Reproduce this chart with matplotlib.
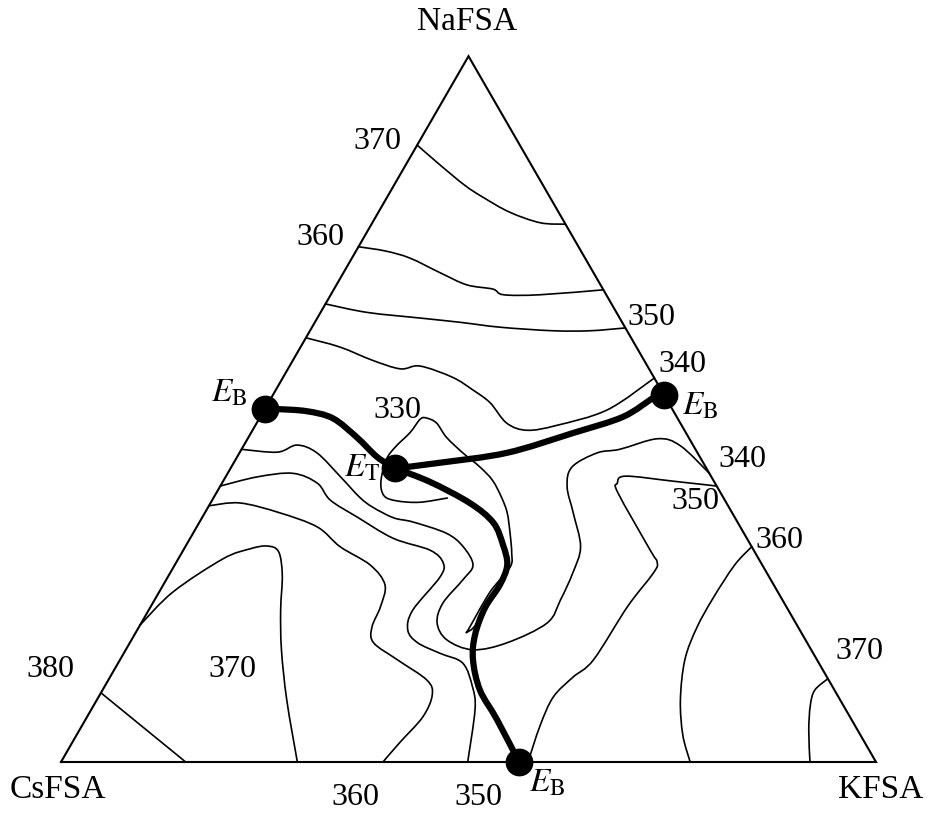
import numpy as np
import matplotlib
matplotlib.use('Agg')
import matplotlib.pyplot as plt
from matplotlib.path import Path
from matplotlib.patches import PathPatch

plt.rcParams['font.family'] = ['Liberation Serif', 'DejaVu Serif']
plt.rcParams['mathtext.fontset'] = 'stix'

# Isotherm traces as mole fractions (x_K, x_NaFSA); x_Cs = 1 - x_K - x_Na
iso370_top_k = [0.0, 0.042, 0.087, 0.118, 0.161, 0.206, 0.238]
iso370_top_na = [0.874, 0.846, 0.817, 0.800, 0.779, 0.764, 0.762]

iso360_top_k = [0.0, 0.036, 0.071, 0.119, 0.160, 0.195, 0.212, 0.257, 0.331]
iso360_top_na = [0.730, 0.724, 0.714, 0.693, 0.676, 0.670, 0.662, 0.662, 0.669]

iso350_top_k = [0.0, 0.057, 0.126, 0.178, 0.231, 0.298, 0.344, 0.385]
iso350_top_na = [0.649, 0.637, 0.629, 0.623, 0.616, 0.611, 0.611, 0.615]

iso340_top_k = [0.0, 0.048, 0.098, 0.138, 0.160, 0.208, 0.242, 0.272, 0.307,
                0.337, 0.370, 0.421, 0.456]
iso340_top_na = [0.601, 0.588, 0.569, 0.557, 0.561, 0.545, 0.527, 0.509, 0.480,
                 0.470, 0.477, 0.499, 0.544]

iso330_k = [0.287, 0.256, 0.227, 0.208, 0.194, 0.185, 0.187, 0.195, 0.198, 0.206,
            0.221, 0.243, 0.274, 0.305, 0.330, 0.353, 0.371, 0.389, 0.405, 0.413,
            0.406, 0.406, 0.406, 0.412, 0.411, 0.406]
iso330_na = [0.374, 0.368, 0.370, 0.377, 0.397, 0.428, 0.446, 0.467, 0.486, 0.487,
             0.480, 0.460, 0.438, 0.418, 0.399, 0.375, 0.353, 0.324, 0.296, 0.276,
             0.241, 0.191, 0.184, 0.197, 0.255, 0.283]

iso340_low_k = [0.0, 0.046, 0.065, 0.095, 0.141, 0.179, 0.202, 0.235, 0.262, 0.311,
                0.341, 0.366, 0.364, 0.356, 0.363, 0.387, 0.426, 0.463, 0.498, 0.498,
                0.494, 0.485, 0.452, 0.426, 0.418, 0.439, 0.464, 0.503, 0.536, 0.591]
iso340_low_na = [0.443, 0.439, 0.449, 0.438, 0.404, 0.375, 0.361, 0.346, 0.340, 0.324,
                 0.305, 0.279, 0.258, 0.225, 0.197, 0.173, 0.159, 0.169, 0.197, 0.230,
                 0.268, 0.305, 0.353, 0.390, 0.418, 0.438, 0.443, 0.458, 0.448, 0.409]

iso350_low_k = [0.0, 0.039, 0.080, 0.117, 0.145, 0.190, 0.249, 0.303, 0.328, 0.334,
                0.324, 0.332, 0.353, 0.388, 0.423, 0.452, 0.471, 0.499]
iso350_low_na = [0.391, 0.404, 0.409, 0.395, 0.371, 0.347, 0.317, 0.300, 0.282, 0.262,
                 0.215, 0.187, 0.169, 0.154, 0.140, 0.106, 0.074, 0.0]

iso360_low_k = [0.0, 0.036, 0.092, 0.148, 0.190, 0.240, 0.272, 0.282, 0.286, 0.299,
                0.340, 0.391, 0.408, 0.412, 0.402, 0.395]
iso360_low_na = [0.363, 0.367, 0.353, 0.333, 0.305, 0.279, 0.251, 0.220, 0.191, 0.169,
                 0.145, 0.116, 0.095, 0.064, 0.028, 0.0]

iso370_low_k = [0.0, 0.017, 0.055, 0.081, 0.100, 0.118, 0.139, 0.162, 0.191, 0.233, 0.290]
iso370_low_na = [0.194, 0.241, 0.288, 0.302, 0.306, 0.298, 0.265, 0.215, 0.159, 0.088, 0.0]

iso380_k = [0.0, 0.153]
iso380_na = [0.098, 0.0]

iso350_right_k = [0.609, 0.551, 0.490, 0.485, 0.493, 0.573, 0.590, 0.593, 0.585, 0.581,
                  0.568, 0.558, 0.562, 0.573]
iso350_right_na = [0.391, 0.398, 0.405, 0.395, 0.381, 0.300, 0.283, 0.268, 0.220, 0.145,
                   0.120, 0.092, 0.052, 0.0]

iso360_right_k = [0.695, 0.687, 0.684, 0.685, 0.693, 0.716, 0.744, 0.772]
iso360_right_na = [0.305, 0.279, 0.232, 0.190, 0.145, 0.088, 0.038, 0.0]

iso370_right_k = [0.882, 0.874, 0.879, 0.895, 0.919]
iso370_right_na = [0.118, 0.102, 0.081, 0.045, 0.0]

# Eutectic valleys: E_B(Cs-Na) -> E_T, E_T -> E_B(Na-K), E_T -> E_B(Cs-K)
valley_csna_k = [0.0, 0.015, 0.053, 0.090, 0.133, 0.172, 0.202]
valley_csna_na = [0.500, 0.500, 0.497, 0.487, 0.460, 0.432, 0.416]

valley_nak_k = [0.202, 0.253, 0.328, 0.395, 0.445, 0.469, 0.480]
valley_nak_na = [0.416, 0.424, 0.438, 0.466, 0.489, 0.516, 0.520]

valley_csk_k = [0.202, 0.254, 0.318, 0.361, 0.389, 0.408, 0.413, 0.411, 0.418,
                0.433, 0.463, 0.505, 0.562]
valley_csk_na = [0.416, 0.397, 0.367, 0.339, 0.307, 0.279, 0.251, 0.218, 0.180,
                 0.145, 0.102, 0.060, 0.0]

eut_k = [0.0, 0.480, 0.562, 0.202]
eut_na = [0.500, 0.520, 0.0, 0.416]


def tern(k, na):
    k = np.asarray(k, dtype=float)
    na = np.asarray(na, dtype=float)
    return k + na / 2.0, na * np.sqrt(3) / 2.0


def smooth_path(x, y):
    # cubic Bezier segments through every point (Catmull-Rom tangents)
    pts = np.column_stack([x, y])
    n = len(pts)
    if n < 3:
        return Path(pts)
    verts = [pts[0]]
    codes = [Path.MOVETO]
    for i in range(n - 1):
        p0 = pts[i - 1] if i > 0 else pts[i]
        p1 = pts[i]
        p2 = pts[i + 1]
        p3 = pts[i + 2] if i + 2 < n else pts[i + 1]
        verts += [p1 + (p2 - p0) / 6.0, p2 - (p3 - p1) / 6.0, p2]
        codes += [Path.CURVE4] * 3
    return Path(verts, codes)


def draw_curve(ax, k, na, lw):
    x, y = tern(k, na)
    ax.add_patch(PathPatch(smooth_path(x, y), fill=False, edgecolor='black', lw=lw,
                           capstyle='round', joinstyle='round'))


fig = plt.figure(figsize=(9.37, 8.14), dpi=100)
ax = fig.add_axes([0, 0, 1, 1])
ax.set_xlim(-61 / 815, 876 / 815)
ax.set_ylim(-52 / 815, 762 / 815)
ax.axis('off')

# triangle frame
fx, fy = tern([0, 1, 0, 0], [0, 0, 1, 0])
ax.plot(fx, fy, color='black', lw=1.5, solid_joinstyle='miter')

isotherms = [
    (iso370_top_k, iso370_top_na), (iso360_top_k, iso360_top_na),
    (iso350_top_k, iso350_top_na), (iso340_top_k, iso340_top_na),
    (iso330_k, iso330_na), (iso340_low_k, iso340_low_na),
    (iso350_low_k, iso350_low_na), (iso360_low_k, iso360_low_na),
    (iso370_low_k, iso370_low_na), (iso380_k, iso380_na),
    (iso350_right_k, iso350_right_na), (iso360_right_k, iso360_right_na),
    (iso370_right_k, iso370_right_na),
]
for k, na in isotherms:
    draw_curve(ax, k, na, 1.2)

for k, na in [(valley_csna_k, valley_csna_na), (valley_nak_k, valley_nak_na),
              (valley_csk_k, valley_csk_na)]:
    draw_curve(ax, k, na, 4.5)

ex, ey = tern(eut_k, eut_na)
ax.plot(ex, ey, 'o', color='black', ms=19, zorder=5)

labels = [
    ('370', 0.388, 0.761), ('360', 0.318, 0.643), ('350', 0.725, 0.545),
    ('340', 0.763, 0.488), ('340', 0.836, 0.371), ('350', 0.778, 0.320),
    ('360', 0.882, 0.272), ('370', 0.980, 0.135), ('380', -0.013, 0.113),
    ('370', 0.210, 0.113), ('360', 0.361, -0.043), ('350', 0.512, -0.043),
    ('330', 0.413, 0.431),
]
for s, x, y in labels:
    ax.text(x, y, s, fontsize=23, ha='center', va='center')

for s, x, y in [('NaFSA', 0.498, 0.908), ('CsFSA', -0.004, -0.034),
                ('KFSA', 1.006, -0.034)]:
    ax.text(x, y, s, fontsize=24, ha='center', va='center')

eut_labels = [
    (r'$E_{\mathrm{B}}$', 0.206, 0.452), (r'$E_{\mathrm{B}}$', 0.784, 0.436),
    (r'$E_{\mathrm{B}}$', 0.596, -0.026), (r'$E_{\mathrm{T}}$', 0.370, 0.360),
]
for s, x, y in eut_labels:
    ax.text(x, y, s, fontsize=24, ha='center', va='center')

fig.savefig('out.png', dpi=100)
